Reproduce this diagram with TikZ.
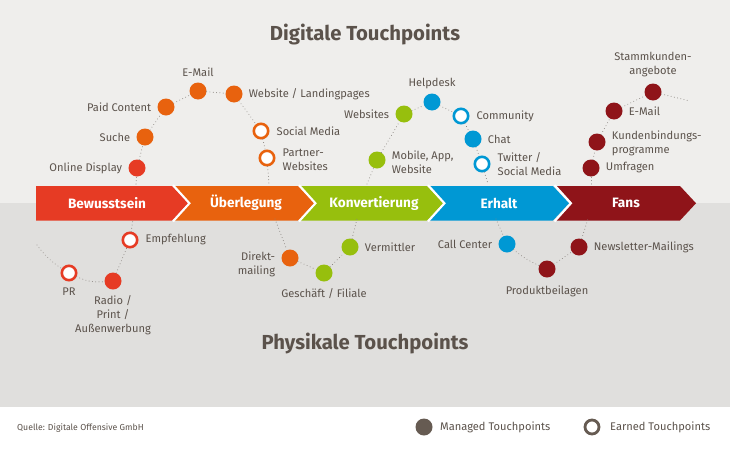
\documentclass[tikz,border=0pt]{standalone}
\usepackage{fontspec}
\setmainfont{Fira Sans}
\definecolor{cRed}{HTML}{E63B24}
\definecolor{cOrange}{HTML}{E8620E}
\definecolor{cGreen}{HTML}{97BF0D}
\definecolor{cBlue}{HTML}{0098D4}
\definecolor{cDark}{HTML}{8F1419}
\definecolor{txt}{HTML}{5B524B}
\definecolor{bgTop}{HTML}{EFEEEC}
\definecolor{bgBot}{HTML}{E0DFDD}
\definecolor{waveC}{HTML}{8C8782}
\definecolor{legC}{HTML}{665B52}
\begin{document}
\begin{tikzpicture}[x=1pt,y=-1pt,
  lbl/.style={text=txt, font=\fontsize{11.1}{14}\selectfont, inner sep=0pt},
  every label/.style={lbl},
  label distance=6pt,
  dot/.style={circle, fill=#1, minimum size=17pt, inner sep=0pt},
  ring/.style={circle, draw=#1, fill=white, line width=2.6pt, minimum size=14.4pt, inner sep=0pt},
  wave/.style={draw=waveC, line width=1pt, dash pattern=on 0.01pt off 3.3pt, line cap=round},
  stage/.style={text=white, font=\bfseries\fontsize{13.6}{15}\selectfont, inner sep=0pt},
  title/.style={text=txt, font=\bfseries\fontsize{20.3}{23}\selectfont, inner sep=0pt},
  notch/.style={draw=white, line width=2pt}]
\path[use as bounding box] (0,0) rectangle (730,450);
% backgrounds
\fill[bgTop] (0,0) rectangle (730,203);
\fill[bgBot] (0,203) rectangle (730,407);
\fill[white] (0,407) rectangle (730,450);

% titles
\node[title] (dt) at (365,35) {Digitale Touchpoints};
\node[title] (pt) at (365,344) {Physikale Touchpoints};

% chevrons
\fill[cRed] (36,186) -- (172,186) -- (188,203.25) -- (172,220.5) -- (36,220.5) -- cycle;
\fill[cOrange] (174,186) -- (298,186) -- (314,203.25) -- (298,220.5) -- (174,220.5) -- (190,203.25) -- cycle;
\fill[cGreen] (300,186) -- (427,186) -- (443,203.25) -- (427,220.5) -- (300,220.5) -- (316,203.25) -- cycle;
\fill[cBlue] (429,186) -- (553,186) -- (569,203.25) -- (553,220.5) -- (429,220.5) -- (445,203.25) -- cycle;
\fill[cDark] (556,186) -- (680,186) -- (696,203.25) -- (680,220.5) -- (556,220.5) -- (572,203.25) -- cycle;
\draw[notch] (173,185) -- (189.5,203.25) -- (173,221.5);
\draw[notch] (299,185) -- (315.5,203.25) -- (299,221.5);
\draw[notch] (428,185) -- (444.5,203.25) -- (428,221.5);
\draw[notch] (554.5,185) -- (571,203.25) -- (554.5,221.5);

\node[stage] (s1) at (107,203) {Bewusstsein};
\node[stage] (s2) at (246,203) {Überlegung};
\node[stage] (s3) at (374,203) {Konvertierung};
\node[stage] (s4) at (499,203) {Erhalt};
\node[stage] (s5) at (626,203) {Fans};

% free ends of the wave
\coordinate (prL) at (37,245);
\coordinate (b1) at (133,219);
\coordinate (t1) at (136,184);
\coordinate (t2) at (269,184);
\coordinate (b2) at (275,219);
\coordinate (b3) at (357,219);
\coordinate (t3) at (367,184);
\coordinate (t4) at (488,184);
\coordinate (b4) at (496,219);
\coordinate (b5) at (588,219);
\coordinate (t5) at (591,184);
\coordinate (skR) at (690,101);

% touchpoints: digital
\node[dot=cRed, label=left:Online Display] (od) at (137,168) {};
\node[dot=cOrange, label=left:Suche] (su) at (145,137) {};
\node[dot=cOrange, label=left:Paid Content] (pc) at (166,107) {};
\node[dot=cOrange, label={[label distance=5pt]above:E-Mail}] (em1) at (198,91) {};
\node[dot=cOrange, label=right:Website / Landingpages] (wl) at (234,94) {};
\node[ring=cOrange, label={[label distance=7pt]right:Social Media}] (sm1) at (261,131) {};
\node[ring=cOrange, label={[align=left,label distance=7pt,yshift=-2pt]right:Partner-\\Websites}] (pw) at (267,158) {};

\node[dot=cGreen, label={[align=left,yshift=-2pt]right:Mobile, App,\\Website}] (ma) at (377,160) {};
\node[dot=cGreen, label=left:Websites] (ws) at (404,114) {};
\node[dot=cBlue, label={[label distance=4pt]above:Helpdesk}] (hd) at (432,102) {};
\node[ring=cBlue, label={[label distance=7pt]right:Community}] (co) at (461,116) {};
\node[dot=cBlue, label=right:Chat] (ch) at (473,139) {};
\node[ring=cBlue, label={[align=left,label distance=7pt]right:Twitter /\\Social Media}] (tw) at (482,164) {};

\node[dot=cDark, label=right:Umfragen] (uf) at (591,168) {};
\node[dot=cDark, label={[align=left,yshift=-1pt]right:Kundenbindungs-\\programme}] (kb) at (597,142) {};
\node[dot=cDark, label=right:E-Mail] (em2) at (614,111) {};
\node[dot=cDark, label={[align=center,label distance=6pt]above:Stammkunden-\\angebote}] (sk) at (653,92) {};

% touchpoints: physical
\node[ring=cRed, label={[label distance=6pt]below:PR}] (pr) at (69,273) {};
\node[dot=cRed, label={[align=center,label distance=6pt]below:Radio /\\Print /\\Außenwerbung}] (rp) at (113,281) {};
\node[ring=cRed, label={[label distance=7pt]right:Empfehlung}] (ef) at (130,240) {};

\node[dot=cOrange, label={[align=right,yshift=-6pt]left:Direkt-\\mailing}] (dm) at (290,258) {};
\node[dot=cGreen, label={[label distance=7pt]below:Geschäft / Filiale}] (gf) at (324,273) {};
\node[dot=cGreen, label=right:Vermittler] (vm) at (350,247) {};

\node[dot=cBlue, label=left:Call Center] (cc) at (507,244) {};
\node[dot=cDark, label={[label distance=8pt]below:Produktbeilagen}] (pb) at (547,269) {};
\node[dot=cDark, label=right:Newsletter-Mailings] (nl) at (579,247) {};

% wave connectors
\draw[wave] (prL) to[bend right=10] (pr);
\draw[wave] (pr) to[bend right=15] (rp);
\draw[wave] (rp) -- (ef);
\draw[wave] (ef) -- (b1);
\draw[wave] (t1) -- (od);
\draw[wave] (od) -- (su);
\draw[wave] (su) -- (pc);
\draw[wave] (pc) -- (em1);
\draw[wave] (em1) -- (wl);
\draw[wave] (wl) -- (sm1);
\draw[wave] (sm1) -- (pw);
\draw[wave] (pw) -- (t2);
\draw[wave] (b2) -- (dm);
\draw[wave] (dm) -- (gf);
\draw[wave] (gf) -- (vm);
\draw[wave] (vm) -- (b3);
\draw[wave] (t3) -- (ma);
\draw[wave] (ma) -- (ws);
\draw[wave] (ws) -- (hd);
\draw[wave] (hd) -- (co);
\draw[wave] (co) -- (ch);
\draw[wave] (ch) -- (tw);
\draw[wave] (tw) -- (t4);
\draw[wave] (b4) -- (cc);
\draw[wave] (cc) to[bend right=8] (pb);
\draw[wave] (pb) -- (nl);
\draw[wave] (nl) -- (b5);
\draw[wave] (t5) -- (uf);
\draw[wave] (uf) -- (kb);
\draw[wave] (kb) -- (em2);
\draw[wave] (em2) -- (sk);
\draw[wave] (sk) -- (skR);

% footer
\node[text=txt, font=\fontsize{8.7}{10}\selectfont, anchor=west, inner sep=0pt] (src) at (17,428) {Quelle: Digitale Offensive GmbH};
\node[circle, fill=legC, minimum size=17pt, inner sep=0pt] (lm) at (424,427) {};
\node[lbl, anchor=west] (lmt) at (440,427) {Managed Touchpoints};
\node[circle, draw=legC, fill=white, line width=2.8pt, minimum size=14pt, inner sep=0pt] (le) at (592,427) {};
\node[lbl, anchor=west] (let) at (610,427) {Earned Touchpoints};
\end{tikzpicture}
\end{document}
